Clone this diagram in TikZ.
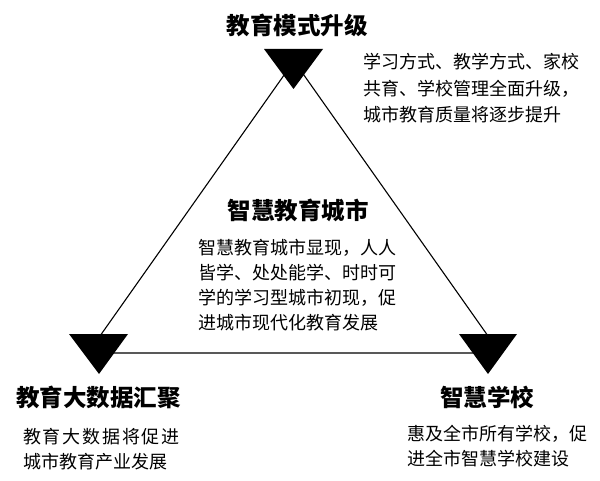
\documentclass[tikz,border=0pt]{standalone}
\usepackage{fontspec}
\setmainfont{Noto Sans CJK SC}
\begin{document}
\begin{tikzpicture}[x=1pt,y=-1pt,
  edge/.style={draw=black,line width=1.1pt},
  mark3/.style={fill=black,draw=none},
  head/.style={inner sep=0pt,anchor=center,font=\fontsize{23.5}{28}\selectfont\bfseries},
  bodyA/.style={inner sep=0pt,anchor=north west,align=left,font=\fontsize{18}{26.6}\selectfont},
  bodyB/.style={inner sep=0pt,anchor=north west,align=left,font=\fontsize{18}{25}\selectfont}]
\useasboundingbox (0,0) rectangle (600,481);
% corner coordinates of the big triangle
\coordinate (T) at (294,61);
\coordinate (L) at (88,353);
\coordinate (R) at (500,353);
\draw[edge] (T) -- (L) -- (R) -- cycle;
% black triangular markers
\path[mark3] (264,49) -- (323,49) -- (293.5,89) -- cycle;
\path[mark3] (69,334) -- (128,334) -- (99,374) -- cycle;
\path[mark3] (459,334) -- (517,334) -- (488,374) -- cycle;
% headings
\node[head] (h1) at (297,25) {教育模式升级};
\node[head] (h2) at (298,210) {智慧教育城市};
\node[head] (h3) at (98.5,397) {教育大数据汇聚};
\node[head] (h4) at (487,397) {智慧学校};
% bodies
\node[bodyA] (b1) at (363,53) {学习方式、教学方式、家校\\共育、学校管理全面升级，\\城市教育质量将逐步提升};
\node[bodyB] (b2) at (198,239.5) {智慧教育城市显现，人人\\皆学、处处能学、时时可\\学的学习型城市初现，促\\进城市现代化教育发展};
\node[bodyB] (b3) at (23,428.5) {{\addfontfeature{LetterSpace=10}教育大数据将促进}\\城市教育产业发展};
\node[bodyB] (b4) at (407,424.5) {惠及全市所有学校，促\\进全市智慧学校建设};
\end{tikzpicture}
\end{document}
